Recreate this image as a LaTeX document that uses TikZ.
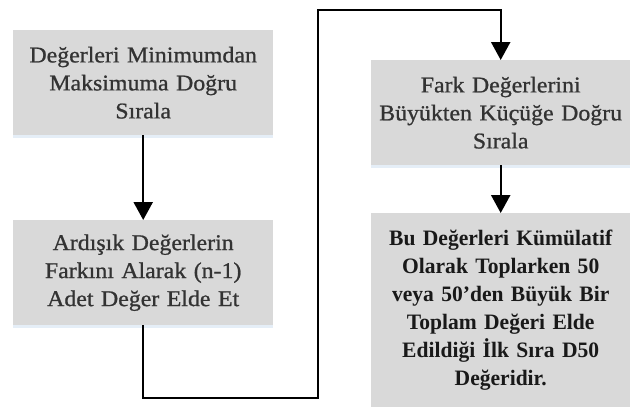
\documentclass[tikz,border=0pt]{standalone}
\usepackage{fontspec}
\setmainfont{Liberation Serif}
\newfontfamily\regfont{Liberation Serif}[FakeStretch=1.06, FakeBold=0.9]
\newfontfamily\boldfont{Liberation Serif Bold}[FakeStretch=0.98]
\usetikzlibrary{arrows.meta,shadows}
\definecolor{boxgray}{HTML}{D9D9D9}
\definecolor{shadowblue}{HTML}{D4E2F2}
\begin{document}
\begin{tikzpicture}[x=1pt,y=-1pt,
  stepbox/.style={fill=boxgray, inner sep=0pt, anchor=north west, align=center,
    font=\regfont\fontsize{22.5}{28}\selectfont, text=black!80,
    drop shadow={shadow xshift=0pt, shadow yshift=-3pt, fill=shadowblue, opacity=0.6}},
  link/.style={line width=2.4pt, line join=miter, -{Triangle[length=18pt,width=19pt]}}]
\useasboundingbox (0,0) rectangle (632,407);
\node[stepbox, minimum width=260pt, minimum height=105pt, text width=260pt] (b1) at (13,30)
  {Değerleri Minimumdan\\Maksimuma Doğru\\Sırala};
\node[stepbox, minimum width=260pt, minimum height=105pt, text width=260pt] (b2) at (13,220)
  {Ardışık Değerlerin\\Farkını Alarak (n-1)\\Adet Değer Elde Et};
\node[stepbox, minimum width=259pt, minimum height=105pt, text width=259pt] (b3) at (371,60)
  {Fark Değerlerini\\Büyükten Küçüğe Doğru\\Sırala};
\node[stepbox, minimum width=259pt, minimum height=194pt, text width=259pt, font=\boldfont\fontsize{22}{28}\selectfont, text=black!90] (b4) at (371,213)
  {Bu Değerleri Kümülatif\\Olarak Toplarken 50\\veya 50’den Büyük Bir\\Toplam Değeri Elde\\Edildiği İlk Sıra D50\\Değeridir.};
\coordinate (c2) at (318,398);
\coordinate (c3) at (318,10);
\draw[link] (b1.south) -- (b2.north);
\draw[link] (b2.south) |- (c2) -- (c3) -| (b3.north);
\draw[link] (b3.south) -- (b4.north);
\end{tikzpicture}
\end{document}
